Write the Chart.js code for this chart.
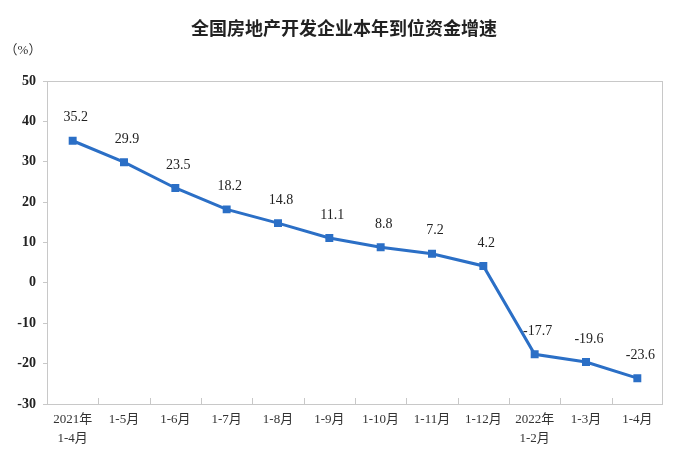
<!DOCTYPE html>
<html>
<head>
<meta charset="utf-8">
<script src="https://cdn.jsdelivr.net/npm/chart.js@4/dist/chart.umd.min.js"></script>
<style>
  html, body { margin: 0; padding: 0; background: #fff; }
  #wrap { width: 673px; height: 458px; }
</style>
</head>
<body>
<div id="wrap"><canvas id="chart_div" width="673" height="458"></canvas></div>
<script>
const ctx = document.getElementById('chart_div');

// data
const titleText = '全国房地产开发企业本年到位资金增速';
const unitText = '（%）';
const labels = [
    ['2021年', '1-4月'], '1-5月', '1-6月', '1-7月', '1-8月', '1-9月',
    '1-10月', '1-11月', '1-12月', ['2022年', '1-2月'], '1-3月', '1-4月'
];
const growth = [35.2, 29.9, 23.5, 18.2, 14.8, 11.1, 8.8, 7.2, 4.2, -17.7, -19.6, -23.6];

const serif = '"Liberation Serif", "Times New Roman", "Noto Sans CJK SC", serif';
const lineColor = '#2b6fc6';

// title, unit, plot box, inside x ticks and point labels
const decor = {
    id: 'decor',
    afterDraw(chart) {
        const c = chart.ctx;
        const area = chart.chartArea;
        c.save();
        // box
        c.strokeStyle = '#c8c8c8';
        c.lineWidth = 1;
        c.strokeRect(area.left + 0.5, area.top + 0.5, area.right - area.left - 1, area.bottom - area.top);
        // x ticks pointing up
        const step = (area.right - area.left) / labels.length;
        for (let i = 1; i < labels.length; i++) {
            const x = Math.round(area.left + step * i) + 0.5;
            c.beginPath();
            c.moveTo(x, area.bottom);
            c.lineTo(x, area.bottom - 6);
            c.stroke();
        }
        // title
        c.fillStyle = '#222';
        c.font = 'bold 18px "Noto Sans CJK SC", sans-serif';
        c.textAlign = 'center';
        c.textBaseline = 'middle';
        c.fillText(titleText, 344, 28);
        // unit
        c.font = '13px ' + serif;
        c.fillStyle = '#333';
        c.fillText(unitText, 23, 51);
        // point labels
        c.font = '14px ' + serif;
        c.fillStyle = '#222';
        const meta = chart.getDatasetMeta(0);
        meta.data.forEach((pt, i) => {
            c.fillText(growth[i].toFixed(1), pt.x + 3, pt.y - 23);
        });
        c.restore();
    }
};

new Chart(ctx, {
    type: 'line',
    data: {
        labels: labels,
        datasets: [{
            data: growth,
            borderColor: lineColor,
            backgroundColor: lineColor,
            borderWidth: 3,
            pointStyle: 'rect',
            pointRadius: 3.5,
            pointHoverRadius: 3.5,
            tension: 0
        }]
    },
    options: {
        responsive: false,
        animation: false,
        events: [],
        layout: { padding: { top: 81, right: 10, left: 0, bottom: 0 } },
        plugins: {
            legend: { display: false },
            title: { display: false },
            tooltip: { enabled: false }
        },
        scales: {
            x: {
                offset: true,
                afterFit: s => { s.height = 54; },
                grid: { display: false, drawTicks: false },
                border: { display: false },
                ticks: {
                    padding: 6,
                    maxRotation: 0,
                    autoSkip: false,
                    color: '#333',
                    font: { family: serif, size: 13, lineHeight: 1.45 }
                }
            },
            y: {
                min: -30,
                max: 50,
                afterFit: s => { s.width = 47; },
                grid: { drawOnChartArea: false, tickLength: 4, color: '#c8c8c8' },
                border: { display: false },
                ticks: {
                    stepSize: 10,
                    padding: 7,
                    color: '#222',
                    font: { family: serif, size: 14, weight: 'bold' }
                }
            }
        }
    },
    plugins: [decor]
});
</script>
</body>
</html>
